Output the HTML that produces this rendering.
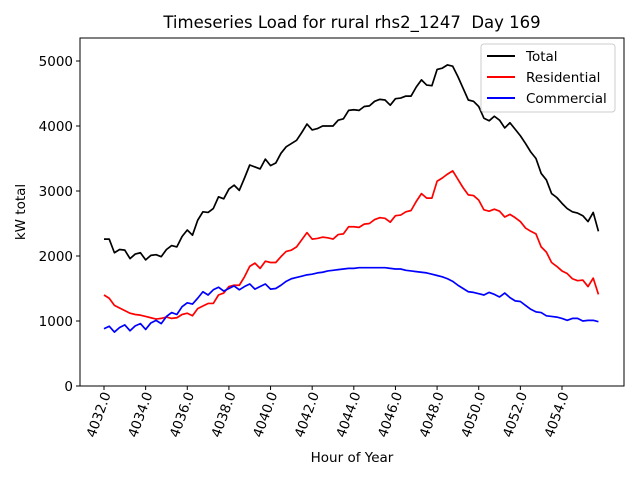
<!DOCTYPE html>
<html><head><meta charset="utf-8"><style>
body{margin:0;background:#fff;}
svg{display:block;font-family:"DejaVu Sans","Liberation Sans",sans-serif;}
</style></head><body>
<svg id="chart" width="640" height="480" viewBox="0 0 640 480">
<rect width="640" height="480" fill="#fff"/>
<text x="352" y="28" text-anchor="middle" font-size="16.5">Timeseries Load for rural rhs2_1247 &#160;Day 169</text>
<text transform="translate(25,212) rotate(-90)" text-anchor="middle" font-size="13.5">kW total</text>
<text x="352" y="462" text-anchor="middle" font-size="13.5">Hour of Year</text>
<g id="ticks"></g>
<g id="series"></g>
<rect x="80" y="38" width="544" height="348" fill="none" stroke="#000" stroke-width="1"/>
<g>
<rect x="481" y="44" width="134" height="68" rx="3" fill="#fff" fill-opacity="0.8" stroke="#ccc"/>
<line x1="487" y1="56" x2="515" y2="56" stroke="#000" stroke-width="2"/>
<text x="526" y="61" font-size="13.5">Total</text>
<line x1="487" y1="77" x2="515" y2="77" stroke="#f00" stroke-width="2"/>
<text x="526" y="82" font-size="13.5">Residential</text>
<line x1="487" y1="98" x2="515" y2="98" stroke="#00f" stroke-width="2"/>
<text x="526" y="103" font-size="13.5">Commercial</text>
</g>
</svg>
<script>
const startHour = 4032;
const stepHour = 0.25;
const totalValues = [2260,2260,2050,2100,2090,1960,2030,2050,1940,2010,2020,1990,2100,2160,2140,2300,2400,2320,2550,2680,2670,2730,2910,2880,3030,3090,3010,3200,3400,3370,3340,3490,3390,3430,3580,3680,3730,3780,3900,4030,3940,3960,4000,4000,4000,4090,4110,4240,4250,4240,4300,4310,4380,4410,4400,4320,4420,4430,4460,4460,4600,4710,4630,4620,4870,4890,4940,4920,4760,4580,4400,4380,4300,4120,4080,4150,4090,3970,4050,3950,3850,3730,3600,3500,3270,3170,2960,2900,2810,2730,2680,2660,2620,2530,2670,2380];
const residentialValues = [1400,1350,1240,1200,1160,1120,1100,1090,1070,1050,1030,1040,1060,1040,1050,1100,1120,1080,1190,1230,1270,1270,1400,1430,1530,1550,1550,1680,1840,1890,1810,1920,1900,1900,1990,2070,2090,2140,2250,2360,2260,2270,2290,2280,2260,2330,2340,2450,2450,2440,2490,2500,2560,2590,2580,2520,2620,2630,2680,2700,2840,2960,2890,2890,3150,3200,3260,3310,3180,3050,2940,2930,2860,2710,2690,2720,2690,2600,2640,2590,2530,2430,2380,2340,2140,2060,1900,1840,1770,1730,1650,1620,1630,1530,1660,1410];
const commercialValues = [880,920,830,900,940,850,925,960,870,970,1010,960,1070,1130,1100,1220,1280,1260,1350,1450,1400,1480,1520,1460,1500,1540,1480,1530,1570,1490,1530,1570,1490,1500,1550,1610,1650,1670,1690,1710,1720,1740,1750,1770,1780,1790,1800,1810,1810,1820,1820,1820,1820,1820,1820,1810,1800,1800,1780,1770,1760,1750,1740,1720,1700,1680,1650,1610,1550,1500,1450,1440,1420,1400,1440,1410,1370,1430,1360,1310,1300,1240,1180,1140,1130,1080,1070,1060,1040,1010,1040,1040,1000,1010,1010,990];
const xTickValues = [4032,4034,4036,4038,4040,4042,4044,4046,4048,4050,4052,4054];
const yTickValues = [0,1000,2000,3000,4000,5000];

const NS = "http://www.w3.org/2000/svg";
function xScale(h){ return 104 + (h - 4032) * 20.818; }
function yScale(v){ return 386 - v * 0.065; }

const tg = document.getElementById('ticks');
yTickValues.forEach(v => {
  const y = yScale(v);
  const l = document.createElementNS(NS,'line');
  l.setAttribute('x1',76); l.setAttribute('x2',80); l.setAttribute('y1',y); l.setAttribute('y2',y);
  l.setAttribute('stroke','#000');
  
  
  tg.appendChild(l);
  const t = document.createElementNS(NS,'text');
  t.setAttribute('x',73); t.setAttribute('y',y+5); t.setAttribute('text-anchor','end'); t.setAttribute('font-size','13.5');
  t.textContent = String(v);
  
  
  tg.appendChild(t);
});
xTickValues.forEach(h => {
  const x = xScale(h);
  const l = document.createElementNS(NS,'line');
  l.setAttribute('x1',x); l.setAttribute('x2',x); l.setAttribute('y1',386); l.setAttribute('y2',390);
  l.setAttribute('stroke','#000');
  
  
  tg.appendChild(l);
  const t = document.createElementNS(NS,'text');
  t.setAttribute('transform','translate('+(x+7)+',394) rotate(-70)');
  t.setAttribute('text-anchor','end'); t.setAttribute('font-size','13.5');
  t.textContent = h.toFixed(1);
  
  
  tg.appendChild(t);
});

const sg = document.getElementById('series');
function drawLine(vals, color, name){
  const pts = vals.map((v,i) => xScale(startHour + i*stepHour).toFixed(2)+','+yScale(v).toFixed(2)).join(' ');
  const p = document.createElementNS(NS,'polyline');
  p.setAttribute('points', pts);
  p.setAttribute('fill','none'); p.setAttribute('stroke',color); p.setAttribute('stroke-width','1.7');
  p.setAttribute('stroke-linejoin','round');
  
  
  sg.appendChild(p);
}
drawLine(totalValues,'#000','total-line');
drawLine(residentialValues,'#f00','residential-line');
drawLine(commercialValues,'#00f','commercial-line');
</script>
</body></html>
